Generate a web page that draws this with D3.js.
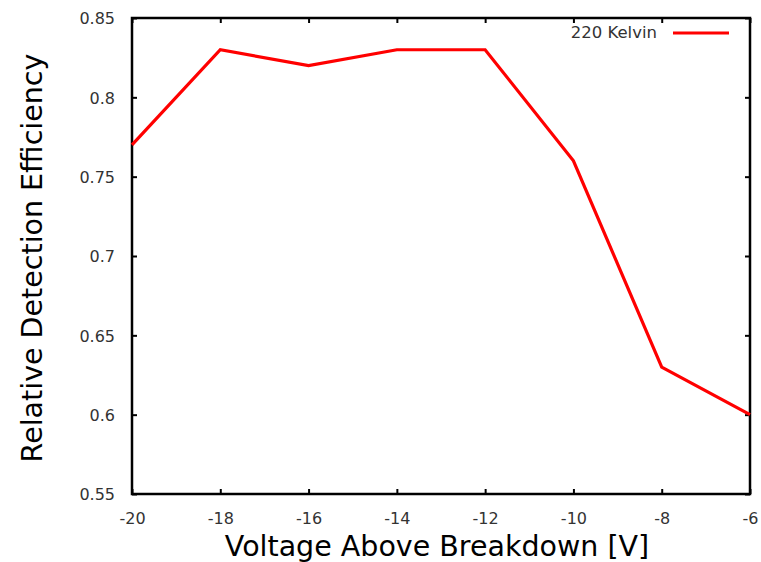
<!DOCTYPE html>
<html><head><meta charset="utf-8">
<script src="https://cdn.jsdelivr.net/npm/d3@7"></script>
<style>body{margin:0;background:#fff}</style>
</head><body>
<script>
const voltages = [-20, -18, -16, -14, -12, -10, -8, -6];
const efficiency = [0.77, 0.83, 0.82, 0.83, 0.83, 0.76, 0.63, 0.60];
const xTicks = [-20, -18, -16, -14, -12, -10, -8, -6];
const yTicks = [0.55, 0.6, 0.65, 0.7, 0.75, 0.8, 0.85];
const seriesName = "220 Kelvin";

const W = 761, H = 562;
const m = {l: 132, r: 11, t: 18, b: 68};
const svg = d3.select("body").append("svg").attr("width", W).attr("height", H);
const x = d3.scaleLinear().domain([-20, -6]).range([m.l, W - m.r]);
const y = d3.scaleLinear().domain([0.55, 0.85]).range([H - m.b, m.t]);
const font = "DejaVu Sans, sans-serif";

const tl = 5;
const gx = svg.append("g").attr("transform", `translate(0,${H - m.b})`)
  .call(d3.axisBottom(x).tickValues(xTicks).tickSize(-tl).tickPadding(0).tickFormat(d => String(d)));
const gxt = svg.append("g").attr("transform", `translate(0,${m.t})`)
  .call(d3.axisTop(x).tickValues(xTicks).tickSize(-tl).tickFormat(""));
const gy = svg.append("g").attr("transform", `translate(${m.l},0)`)
  .call(d3.axisLeft(y).tickValues(yTicks).tickSize(-tl).tickPadding(17).tickFormat(d => String(+d.toFixed(2))));
const gyr = svg.append("g").attr("transform", `translate(${W - m.r},0)`)
  .call(d3.axisRight(y).tickValues(yTicks).tickSize(-tl).tickFormat(""));
[gx, gxt, gy, gyr].forEach(g => {
  g.select(".domain").remove();
  g.selectAll(".tick line").attr("stroke", "#000").attr("stroke-width", 2);
  g.selectAll("text").attr("font-family", font).attr("font-size", 16).attr("fill", "#333");
});
gx.selectAll("text").attr("y", 30).attr("dy", 0);
gy.selectAll("text").attr("dy", "0.36em");

svg.append("rect").attr("x", m.l).attr("y", m.t)
  .attr("width", W - m.r - m.l).attr("height", H - m.b - m.t)
  .attr("fill", "none").attr("stroke", "#000").attr("stroke-width", 2.5);

const data = voltages.map((v, i) => [v, efficiency[i]]);
svg.append("path").datum(data)
  .attr("d", d3.line().x(d => x(d[0])).y(d => y(d[1])))
  .attr("fill", "none").attr("stroke", "#ff0000").attr("stroke-width", 3.2)
  .attr("stroke-linejoin", "miter");

// legend
svg.append("text").attr("x", 657).attr("y", 38).attr("text-anchor", "end")
  .attr("font-family", font).attr("font-size", 16.5).attr("fill", "#333").text(seriesName);
svg.append("line").attr("x1", 673).attr("x2", 729).attr("y1", 33).attr("y2", 33)
  .attr("stroke", "#ff0000").attr("stroke-width", 3.2);

// axis titles
svg.append("text").attr("x", 437).attr("y", 556).attr("text-anchor", "middle")
  .attr("font-family", font).attr("font-size", 28.5).attr("fill", "#000").text("Voltage Above Breakdown [V]");
svg.append("text").attr("transform", `translate(42,258) rotate(-90)`)
  .attr("text-anchor", "middle").attr("font-family", font).attr("font-size", 28.5).attr("fill", "#000")
  .text("Relative Detection Efficiency");
</script>
</body></html>
